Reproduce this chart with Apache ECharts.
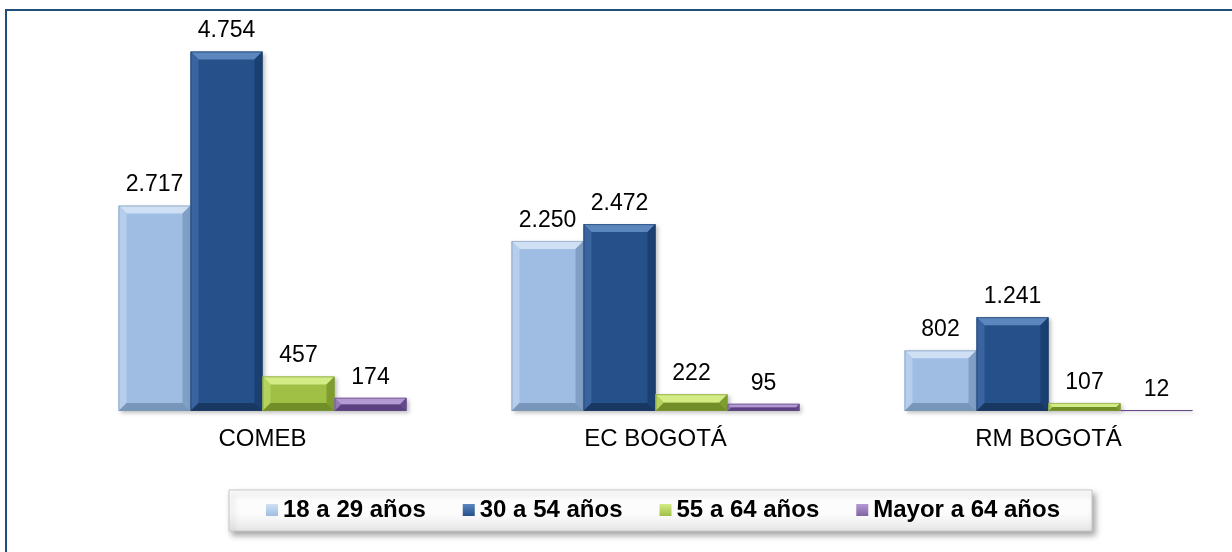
<!DOCTYPE html>
<html>
<head>
<meta charset="utf-8">
<script src="https://cdn.jsdelivr.net/npm/echarts@6/dist/echarts.min.js"></script>
<style>
html,body{margin:0;padding:0;background:#fff;overflow:hidden;width:1232px;height:552px;}
#chart{width:1260px;height:552px;}
</style>
</head>
<body>
<div id="chart"></div>
<script>
const categories = ['COMEB', 'EC BOGOTÁ', 'RM BOGOTÁ'];
const seriesNames = ['18 a 29 años', '30 a 54 años', '55 a 64 años', 'Mayor a 64 años'];
const v18to29 = [2717, 2250, 802];
const v30to54 = [4754, 2472, 1241];
const v55to64 = [457, 222, 107];
const vOver64 = [174, 95, 12];
const yTicks = [0, 5000];

const seriesValues = [v18to29, v30to54, v55to64, vOver64];
const palette = [
  {face: '#9FBDE3', top: '#CFE0F5', left: '#B6CDEB', right: '#819FC5', bottom: '#7895BA', edge: '#7F98B8'},
  {face: '#26508A', top: '#5C86BE', left: '#3A64A0', right: '#1B3F70', bottom: '#183862', edge: '#1C3D66'},
  {face: '#A0BF45', top: '#D4EC86', left: '#B5D35C', right: '#7F9D2E', bottom: '#728E28', edge: '#7C963A'},
  {face: '#8064A2', top: '#B49AD3', left: '#957AB8', right: '#65498A', bottom: '#5B4180', edge: '#604A7E'}
];
const FONT = '"Liberation Sans", Arial, sans-serif';
const catGap = 1 - 288 / 393;

function fmt(v) {
  return String(v).replace(/\B(?=(\d{3})+(?!\d))/g, '.');
}

function makeRender(sIdx) {
  const c = palette[sIdx];
  return function (params, api) {
    const ci = api.value(0);
    const val = api.value(1);
    const base = api.coord([ci, 0]);
    const topPt = api.coord([ci, val]);
    const band = api.size([1, 0])[0];
    const bw = band * (1 - catGap) / 4;
    const x = base[0] + (sIdx - 1.5) * bw - bw / 2;
    const y = topPt[1];
    const h = Math.max(base[1] - topPt[1], 1);
    const w = bw;
    const b = Math.min(8, h / 2, w / 2);
    const children = [
      {type: 'rect', shape: {x: x, y: y, width: w, height: h},
       style: {fill: c.face, shadowBlur: 4, shadowOffsetX: 2, shadowOffsetY: 2, shadowColor: 'rgba(0,0,0,0.25)'}},
      {type: 'polygon', shape: {points: [[x, y], [x + w, y], [x + w - b, y + b], [x + b, y + b]]}, style: {fill: c.top}},
      {type: 'polygon', shape: {points: [[x, y], [x + b, y + b], [x + b, y + h - b], [x, y + h]]}, style: {fill: c.left}},
      {type: 'polygon', shape: {points: [[x + w, y], [x + w, y + h], [x + w - b, y + h - b], [x + w - b, y + b]]}, style: {fill: c.right}},
      {type: 'polygon', shape: {points: [[x, y + h], [x + b, y + h - b], [x + w - b, y + h - b], [x + w, y + h]]}, style: {fill: c.bottom}},
      {type: 'rect', shape: {x: x + 0.5, y: y + 0.5, width: w - 1, height: Math.max(h - 1, 0)},
       style: {fill: null, stroke: c.edge, lineWidth: 1, opacity: 0.6}},
      {type: 'text', style: {x: x + w / 2, y: y - 9, text: fmt(val), fill: '#000',
        font: '23px ' + FONT, align: 'center', verticalAlign: 'bottom'}}
    ];
    return {type: 'group', children: children};
  };
}

const chart = echarts.init(document.getElementById('chart'), null, {renderer: 'canvas'});
const option = {
  animation: false,
  backgroundColor: '#ffffff',
  textStyle: {fontFamily: FONT},
  graphic: [{
    type: 'rect', z: 100, silent: true,
    shape: {x: 6, y: 10, width: 1250, height: 570},
    style: {fill: null, stroke: '#1F4E79', lineWidth: 2}
  }],
  grid: {left: 66, top: 33, width: 1179, bottom: 141, containLabel: false},
  xAxis: {
    type: 'category', data: categories, boundaryGap: true,
    axisLine: {show: false}, axisTick: {show: false},
    axisLabel: {fontSize: 24, color: '#000', margin: 16, fontFamily: FONT}
  },
  yAxis: {
    type: 'value', min: yTicks[0], max: yTicks[yTicks.length - 1], show: false,
    splitLine: {show: false}
  },
  legend: {
    left: 229, top: 490,
    itemWidth: 12, itemHeight: 12, itemGap: 37,
    padding: [8, 32, 9, 37],
    icon: 'rect',
    backgroundColor: {type: 'linear', x: 0, y: 0, x2: 0, y2: 1,
      colorStops: [{offset: 0, color: '#ffffff'}, {offset: 0.6, color: '#fbfbfb'}, {offset: 1, color: '#e6e6e6'}]},
    borderColor: '#c8c8c8', borderWidth: 1,
    shadowBlur: 6, shadowOffsetX: 3, shadowOffsetY: 4, shadowColor: 'rgba(0,0,0,0.35)',
    textStyle: {fontSize: 24, fontWeight: 'bold', color: '#000', fontFamily: FONT},
    data: seriesNames.map((n, i) => ({
      name: n,
      itemStyle: {color: {type: 'linear', x: 0, y: 0, x2: 0, y2: 1,
        colorStops: [{offset: 0, color: palette[i].top}, {offset: 1, color: palette[i].face}]}}
    }))
  },
  series: seriesNames.map((n, i) => ({
    name: n,
    type: 'custom',
    renderItem: makeRender(i),
    itemStyle: {color: palette[i].face},
    encode: {x: 0, y: 1},
    data: seriesValues[i].map((v, ci) => [ci, v])
  }))
};
chart.setOption(option);
</script>
</body>
</html>
